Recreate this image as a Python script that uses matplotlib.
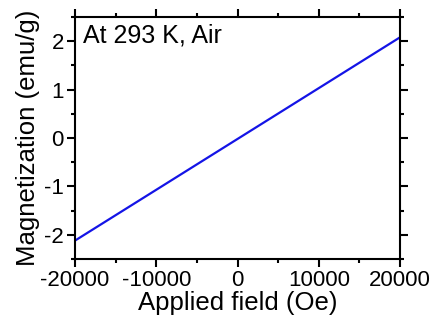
import numpy as np
import matplotlib
matplotlib.use('Agg')
import matplotlib.pyplot as plt
from matplotlib.ticker import MultipleLocator

plt.rcParams['font.family'] = ['Liberation Sans', 'DejaVu Sans']
plt.rcParams['axes.unicode_minus'] = False

# M-H data at 293 K in air
field = [-20000, -10000, 0, 10000, 20000]
magnetization = [-2.12, -1.07, -0.02, 1.03, 2.08]

fig = plt.figure(figsize=(4.33, 3.22), dpi=100)
ax = fig.add_axes([75 / 433, 1 - 259 / 322, 325 / 433, 242 / 322])

ax.plot(field, magnetization, color='#1414e6', linewidth=1.6)

ax.set_xlim(-20000, 20000)
ax.set_ylim(-2.5, 2.5)
ax.xaxis.set_major_locator(MultipleLocator(10000))
ax.xaxis.set_minor_locator(MultipleLocator(5000))
ax.yaxis.set_major_locator(MultipleLocator(1))
ax.yaxis.set_minor_locator(MultipleLocator(0.5))

for s in ax.spines.values():
    s.set_linewidth(1.5)
ax.tick_params(which='both', direction='out', top=True, right=True,
               labeltop=False, labelright=False, width=1.5)
ax.tick_params(which='major', length=5.5, labelsize=16, pad=2.5)
ax.tick_params(which='minor', length=3)

ax.set_xlabel('Applied field (Oe)', fontsize=18.5, labelpad=0)
ax.set_ylabel('Magnetization (emu/g)', fontsize=18.5, labelpad=3)
ax.text(8 / 325, 1 - 7 / 242, 'At 293 K, Air', transform=ax.transAxes,
        fontsize=18, ha='left', va='top')

fig.savefig('out.png', dpi=100)
